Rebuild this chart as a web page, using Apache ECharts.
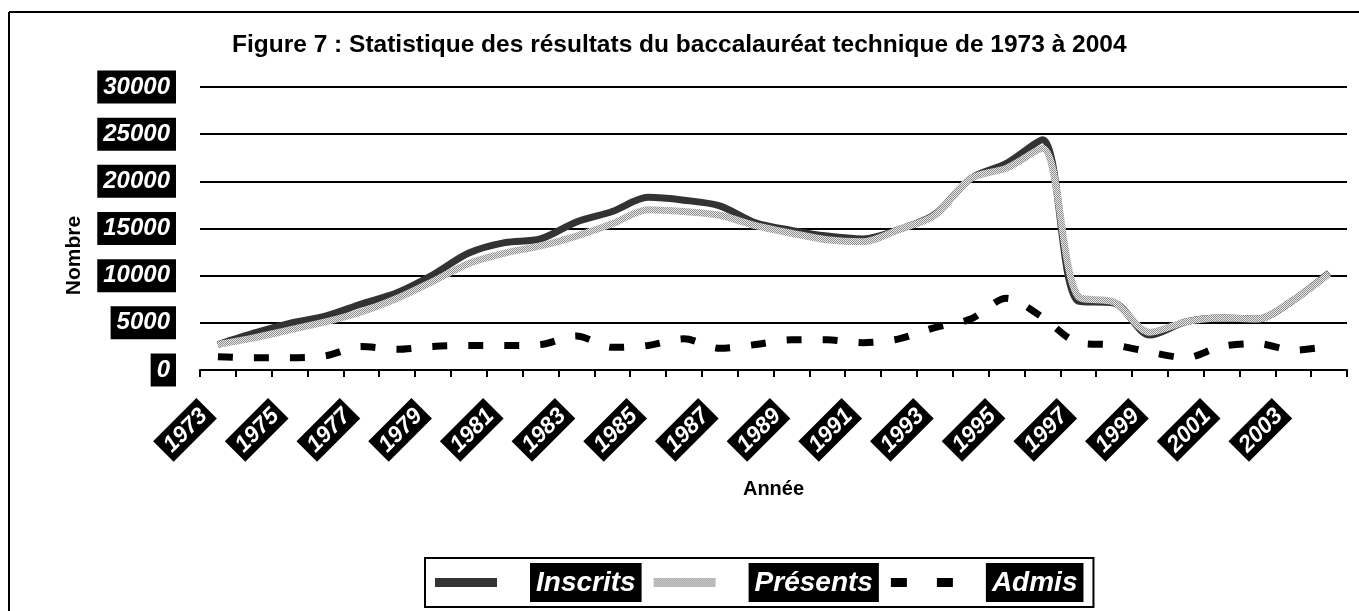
<!DOCTYPE html>
<html>
<head>
<meta charset="utf-8">
<script src="https://cdn.jsdelivr.net/npm/echarts@6/dist/echarts.min.js"></script>
<style>
html,body{margin:0;padding:0;background:#fff;}
#chart{width:1359px;height:611px;}
</style>
</head>
<body>
<div id="chart"></div>
<script>
const years = ['1973','1974','1975','1976','1977','1978','1979','1980','1981','1982','1983','1984','1985','1986','1987','1988','1989','1990','1991','1992','1993','1994','1995','1996','1997','1998','1999','2000','2001','2002','2003','2004'];
const inscrits = [2700,3900,4950,5700,7000,8200,10100,12400,13500,13900,15700,16800,18300,18000,17400,15600,14800,14200,13900,14900,16500,20300,21900,24400,7300,7100,3700,5100,5500,5400,7400,10300];
const presents = [2700,3400,4250,5100,6150,7600,9400,11300,12400,13150,14200,15500,17000,16800,16400,15300,14500,13800,13600,14900,16400,20300,21400,23500,7800,7200,4000,5100,5500,5400,7400,10200];
const admis = [1400,1300,1300,1500,2500,2200,2500,2600,2600,2700,3600,2400,2600,3300,2300,2700,3200,3200,2900,3300,4500,5400,7600,5600,2900,2650,1900,1300,2500,2800,2100,2500];
const seriesNames = ['Inscrits','Présents','Admis'];
const yTicks = {min:0, max:30000, interval:5000};

const chart = echarts.init(document.getElementById('chart'));

// light dotted texture for "Présents"
const pc = document.createElement('canvas');
pc.width = 2; pc.height = 2;
const px = pc.getContext('2d');
px.fillStyle = '#e8e8e8'; px.fillRect(0,0,2,2);
px.fillStyle = '#8e8e8e'; px.fillRect(0,0,1,1); px.fillRect(1,1,1,1);
const presentsColor = {image: pc, repeat: 'repeat'};

const sans = '"Liberation Sans", Arial, sans-serif';

const labelBox = {
  color:'#fff', backgroundColor:'#000', fontFamily: sans,
  fontWeight:'bold', fontStyle:'italic'
};

chart.setOption({
  animation:false,
  title:{
    text:'Figure 7 : Statistique des résultats du baccalauréat technique de 1973 à 2004',
    left:227, top:28,
    textStyle:{fontFamily: sans, fontWeight:'bold', fontSize:24.5, color:'#000'}
  },
  grid:{left:200, right:12, top:87, bottom:241},
  legend:{
    left:425, top:558,
    borderColor:'#000', borderWidth:2,
    padding:[5,10,5,10],
    itemWidth:62, itemHeight:9, itemGap:12,
    data: [
      {name:seriesNames[0], icon:'path://M0,0H62V9H0Z', itemStyle:{color:'#333'}},
      {name:seriesNames[1], icon:'path://M0,0H62V9H0Z', itemStyle:{color:presentsColor}},
      {name:seriesNames[2], icon:'path://M0,0H16V9H0Z M46,0H62V9H46Z', itemStyle:{color:'#000'}}
    ],
    formatter: n => '{g|}{t|' + n + '}',
    textStyle:{
      rich:{
        g:{width:28},
        t:Object.assign({fontSize:28, padding:[3,6,1,6], height:35, lineHeight:35}, labelBox)
      }
    }
  },
  xAxis:{
    type:'category', data: years, boundaryGap:true,
    name:'Année', nameLocation:'middle', nameGap:109, nameMoveOverlap:false,
    nameTextStyle:{fontFamily: sans, fontWeight:'bold', fontSize:20, color:'#000'},
    axisLine:{lineStyle:{color:'#000', width:2}},
    axisTick:{show:true, interval:0, length:7, lineStyle:{color:'#000', width:2}},
    axisLabel:{
      interval:1, rotate:45, margin:27,
      formatter: v => '{v|' + v + '}{s|}',
      rich:{
        v:Object.assign({fontSize:23, padding:[4,5,2,5]}, labelBox),
        s:{width:16}
      }
    }
  },
  yAxis:{
    type:'value', min:yTicks.min, max:yTicks.max, interval:yTicks.interval,
    name:'Nombre', nameLocation:'middle', nameGap:115, nameRotate:90, nameMoveOverlap:false,
    nameTextStyle:{fontFamily: sans, fontWeight:'bold', fontSize:21, color:'#000', padding:[0,54,0,0]},
    axisLine:{show:false}, axisTick:{show:false},
    splitLine:{lineStyle:{color:'#000', width:2}},
    axisLabel: Object.assign({fontSize:24, margin:24, padding:[5,6,4,6], formatter: v => String(v)}, labelBox)
  },
  series:[
    {name:seriesNames[0], type:'line', data:inscrits, smooth:0.3, symbol:'none',
     lineStyle:{color:'#333', width:7}, itemStyle:{color:'#333'}, emphasis:{disabled:true}},
    {name:seriesNames[1], type:'line', data:presents, smooth:0.3, symbol:'none',
     lineStyle:{color:presentsColor, width:7}, itemStyle:{color:presentsColor}, emphasis:{disabled:true}},
    {name:seriesNames[2], type:'line', data:admis, smooth:0.3, symbol:'none',
     lineStyle:{color:'#000', width:7, type:[15,21]}, itemStyle:{color:'#000'}, emphasis:{disabled:true}}
  ],
  graphic:[
    {type:'line', shape:{x1:9, y1:12, x2:1359, y2:12}, style:{stroke:'#000', lineWidth:2}},
    {type:'line', shape:{x1:9, y1:12, x2:9, y2:611}, style:{stroke:'#000', lineWidth:2}}
  ]
});
</script>
</body>
</html>
